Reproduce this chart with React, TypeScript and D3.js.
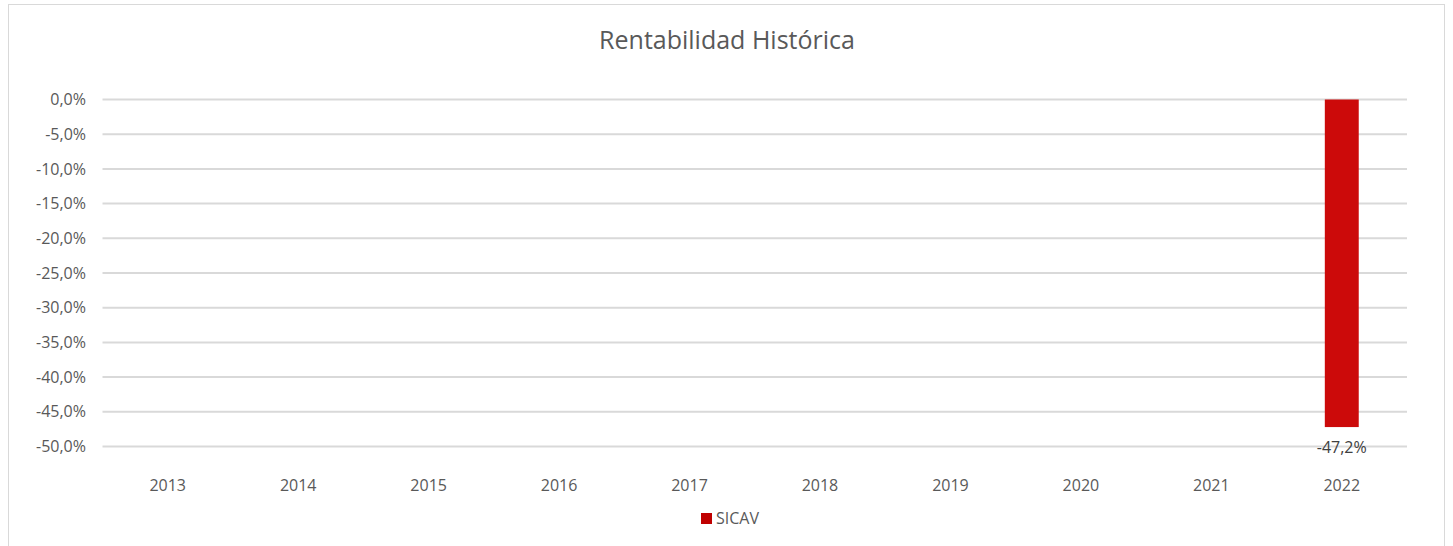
import React from "react";
import * as d3 from "d3";

const years = ["2013","2014","2015","2016","2017","2018","2019","2020","2021","2022"];
const sicav: (number | null)[] = [null,null,null,null,null,null,null,null,null,-47.2];
const yTicks = [0,-5,-10,-15,-20,-25,-30,-35,-40,-45,-50];
const title = "Rentabilidad Histórica";
const seriesName = "SICAV";

const W = 1453, H = 546;
const left = 102.5, right = 1407, top = 99.5, bottom = 446.5;
const FONT = "'Open Sans', sans-serif";
const fmt = (v: number) => v.toFixed(1).replace(".", ",") + "%";

export default function App() {
  const x = d3.scaleBand<string>().domain(years).range([left, right]).paddingInner(0.74).paddingOuter(0.37);
  const y = d3.scaleLinear().domain([0, -50]).range([top, bottom]);
  return (
    <svg width={W} height={H} style={{ position: "absolute", left: 0, top: 0 }} fontFamily={FONT}>
      <rect x={0} y={0} width={W} height={H} fill="#fff" />
      <rect x={8.5} y={4.5} width={1436} height={560} fill="#fff" stroke="#d9d9d9" strokeWidth={1} />
      <text x={727} y={40} dy="0.35em" textAnchor="middle" fontSize={25} fill="#595959">{title}</text>
      {yTicks.map((t) => (
        <g key={t}>
          <line x1={left} x2={right} y1={y(t)} y2={y(t)} stroke="#d9d9d9" strokeWidth={2} />
          <text x={86} y={y(t)} dy="0.35em" textAnchor="end" fontSize={16} fill="#595959">{fmt(t)}</text>
        </g>
      ))}
      {years.map((yr) => (
        <text key={yr} x={(x(yr) as number) + x.bandwidth() / 2} y={485} dy="0.35em" textAnchor="middle" fontSize={16} fill="#595959">{yr}</text>
      ))}
      {years.map((yr, i) => {
        const v = sicav[i];
        if (v == null) return null;
        const bx = x(yr) as number;
        return (
          <g key={"b" + yr}>
            <rect x={bx} y={y(0)} width={x.bandwidth()} height={y(v) - y(0)} fill="#cc0a0a" />
            <text x={bx + x.bandwidth() / 2} y={y(v) + 20} dy="0.35em" textAnchor="middle" fontSize={16} fill="#404040">{fmt(v)}</text>
          </g>
        );
      })}
      <rect x={701} y={513} width={11} height={11} fill="#c00000" />
      <text x={716} y={518.5} dy="0.35em" fontSize={16} fill="#595959">{seriesName}</text>
    </svg>
  );
}
